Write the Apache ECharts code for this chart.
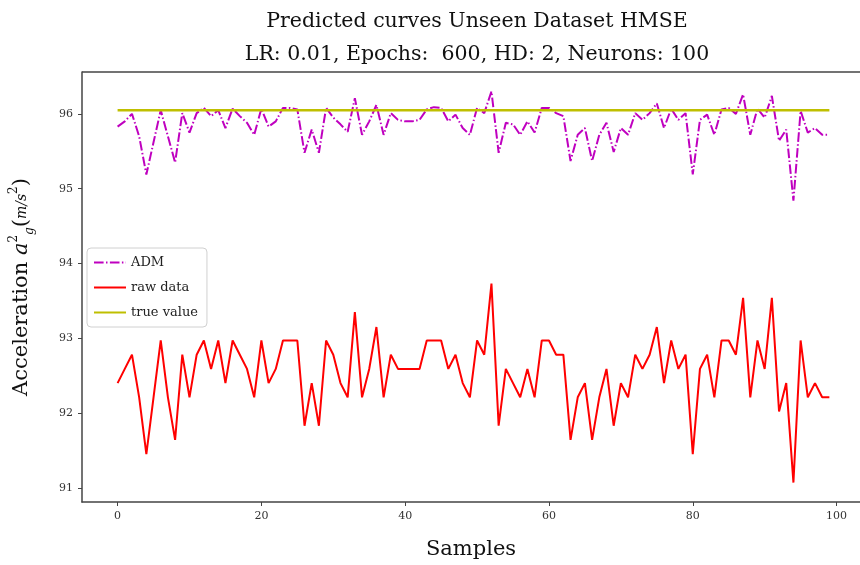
<!DOCTYPE html>
<html>
<head>
<meta charset="utf-8">
<script src="https://cdn.jsdelivr.net/npm/echarts@6/dist/echarts.min.js"></script>
<style>html,body{margin:0;padding:0;background:#fff}#c{width:860px;height:565px}</style>
</head>
<body>
<div id="c"></div>
<script>
const samples = Array.from({length: 100}, (_, i) => i);
const admValues = [95.83,95.90,96.00,95.70,95.19,95.62,96.05,95.70,95.35,96.01,
95.75,96.01,96.08,95.97,96.05,95.81,96.07,95.97,95.88,95.72,
96.07,95.83,95.90,96.08,96.08,96.06,95.48,95.79,95.48,96.08,
95.95,95.86,95.76,96.21,95.72,95.90,96.12,95.72,96.01,95.92,
95.90,95.90,95.92,96.06,96.09,96.08,95.90,95.99,95.81,95.72,
96.08,96.01,96.30,95.48,95.88,95.86,95.72,95.90,95.75,96.08,
96.08,96.01,95.97,95.37,95.72,95.81,95.37,95.72,95.88,95.49,
95.81,95.72,96.01,95.92,96.01,96.14,95.81,96.07,95.92,96.01,
95.19,95.92,95.99,95.72,96.06,96.08,96.00,96.26,95.72,96.07,
95.95,96.24,95.64,95.79,94.84,96.04,95.75,95.81,95.72,95.72];
const rawValues = [92.40,92.59,92.78,92.21,91.45,92.21,92.97,92.21,91.64,92.78,
92.21,92.78,92.97,92.59,92.97,92.40,92.97,92.78,92.59,92.21,
92.97,92.40,92.59,92.97,92.97,92.97,91.83,92.40,91.83,92.97,
92.78,92.40,92.21,93.35,92.21,92.59,93.15,92.21,92.78,92.59,
92.59,92.59,92.59,92.97,92.97,92.97,92.59,92.78,92.40,92.21,
92.97,92.78,93.73,91.83,92.59,92.40,92.21,92.59,92.21,92.97,
92.97,92.78,92.78,91.64,92.21,92.40,91.64,92.21,92.59,91.83,
92.40,92.21,92.78,92.59,92.78,93.15,92.40,92.97,92.59,92.78,
91.45,92.59,92.78,92.21,92.97,92.97,92.78,93.54,92.21,92.97,
92.59,93.54,92.02,92.40,91.07,92.97,92.21,92.40,92.21,92.21];
const trueValue = 96.05;
const trueValues = samples.map(() => trueValue);
const xTicks = [0, 20, 40, 60, 80, 100];
const yTicks = [91, 92, 93, 94, 95, 96];
const titleLines = ['Predicted curves Unseen Dataset HMSE', 'LR: 0.01, Epochs:  600, HD: 2, Neurons: 100'];

const serif = "'DejaVu Serif', 'Liberation Serif', serif";
const pair = arr => arr.map((v, i) => [samples[i], v]);
const axisColor = '#444';
const yMin = 90.81, yMax = 96.56;

const chart = echarts.init(document.getElementById('c'), null, {renderer: 'canvas'});
chart.setOption({
  animation: false,
  backgroundColor: '#fff',
  title: {
    text: titleLines.join('\n'),
    left: 472, top: 0, textAlign: 'center',
    textStyle: {fontFamily: serif, fontSize: 20.5, fontWeight: 'normal', color: '#111', lineHeight: 33}
  },
  grid: {left: 80, top: 72, right: 0, bottom: 60, show: false, containLabel: false},
  legend: {
    left: 87, top: 248, orient: 'vertical', itemWidth: 32, itemHeight: 10, itemGap: 12,
    padding: [8, 9, 8, 6],
    backgroundColor: '#fff', borderColor: '#d0d0d0', borderWidth: 1, borderRadius: 4,
    itemStyle: {opacity: 0},
    textStyle: {fontFamily: serif, fontSize: 13, color: '#222'},
    data: ['ADM', 'raw data', 'true value']
  },
  xAxis: {
    type: 'value', min: -4.95, max: 103.26,
    name: 'Samples', nameLocation: 'middle', nameGap: 37,
    nameTextStyle: {fontFamily: serif, fontSize: 21, color: '#111'},
    axisLine: {show: true, onZero: false, lineStyle: {color: axisColor, width: 1.5}},
    axisTick: {show: true, length: 4, customValues: xTicks, lineStyle: {color: axisColor}},
    axisLabel: {customValues: xTicks, fontFamily: serif, fontSize: 11, color: '#333', margin: 9},
    splitLine: {show: false}
  },
  yAxis: {
    type: 'value', min: yMin, max: yMax,
    name: '{n|Acceleration }{i|a}{s|2}{b|g}{n|(}{f|m/s}{s|2}{n|)}',
    nameLocation: 'middle', nameGap: 46, nameRotate: 90,
    nameTextStyle: {
      fontFamily: serif, fontSize: 21, color: '#111',
      rich: {
        n: {fontFamily: serif, fontSize: 21, color: '#111', lineHeight: 28, verticalAlign: 'middle'},
        i: {fontFamily: serif, fontSize: 21, fontStyle: 'italic', color: '#111', lineHeight: 28},
        s: {fontFamily: serif, fontSize: 12, color: '#111', verticalAlign: 'top', lineHeight: 28, padding: [0, 0, 10, 0]},
        b: {fontFamily: serif, fontSize: 12, fontStyle: 'italic', color: '#111', verticalAlign: 'bottom', lineHeight: 28},
        f: {fontFamily: serif, fontSize: 14, fontStyle: 'italic', color: '#111', lineHeight: 28}
      }
    },
    axisLine: {show: true, onZero: false, lineStyle: {color: axisColor, width: 1.5}},
    axisTick: {show: true, length: 4, customValues: yTicks, lineStyle: {color: axisColor}},
    axisLabel: {customValues: yTicks, fontFamily: serif, fontSize: 11, color: '#333', margin: 9},
    splitLine: {show: false}
  },
  series: [
    {name: 'ADM', type: 'line', data: pair(admValues), symbol: 'none', color: '#bf00bf',
      lineStyle: {color: '#bf00bf', width: 2, type: [9.6, 2.4, 1.5, 2.4]}},
    {name: 'raw data', type: 'line', data: pair(rawValues), symbol: 'none', color: '#ff0000',
      lineStyle: {color: '#ff0000', width: 2}},
    {name: 'true value', type: 'line', data: pair(trueValues), symbol: 'none', color: '#bfbf00',
      lineStyle: {color: '#bfbf00', width: 2.5},
      markLine: {silent: true, symbol: 'none', label: {show: false},
        lineStyle: {color: axisColor, width: 1.5, type: 'solid'},
        data: [{yAxis: yMax}]}}
  ]
});
</script>
</body>
</html>
